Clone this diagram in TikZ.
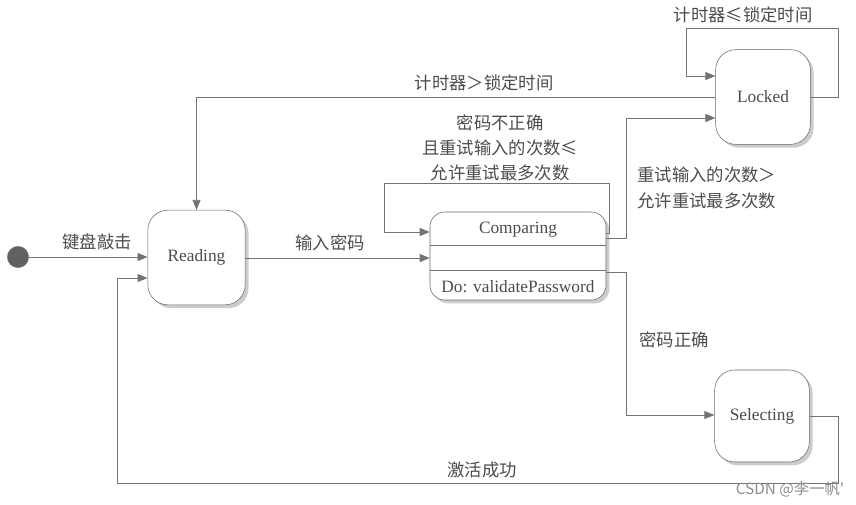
\documentclass[tikz,border=0pt]{standalone}
\usepackage{fontspec}
\setmainfont{Liberation Serif}
\newfontfamily\cjk{Noto Sans CJK SC}
\usetikzlibrary{arrows.meta,shadows}

\begin{document}
\begin{tikzpicture}[x=0.75pt,y=-0.75pt,font=\fontsize{13pt}{16pt}\selectfont,
  st/.style={draw=black!60,fill=white,rounded corners=15pt,minimum width=71pt,minimum height=71pt,
    drop shadow={shadow xshift=2.5pt,shadow yshift=-2.5pt,fill=black!40},text=black!70},
  arr/.style={-{Triangle[length=7.5pt,width=6pt]},draw=black!55,semithick},
  ln/.style={draw=black!55,semithick},
  lb/.style={text=black!70,font=\fontsize{13pt}{19pt}\selectfont\cjk,inner sep=1pt}]
  \useasboundingbox (0,0) rectangle (856,504);
  % states
  \node[circle,fill=black!62,draw=black!50,minimum size=16pt,inner sep=0pt](init) at (18,257){};
  \node[st,minimum width=73pt](rd) at (196.5,257.5){Reading};
  \node[st,minimum width=132pt,minimum height=66pt,rounded corners=11pt](cmp) at (518,256){};
  \node[text=black!70](cmpname) at (518,230){Comparing};
  \node[text=black!70](cmpdo) at (518,287){Do: validatePassword};
  \draw[ln](cmp.west |- 0,245)--(cmp.east |- 0,245);
  \draw[ln](cmp.west |- 0,270)--(cmp.east |- 0,270);
  \node[st](lk) at (763,97){Locked};
  \node[st,minimum height=69pt](sel) at (762,416){Selecting};
  % helper points
  \coordinate(c1) at (606,233); \coordinate(c2) at (606,238); \coordinate(c3) at (606,272);
  % transitions
  \draw[arr](init)--(init -| rd.west);
  \node[lb](l1) at (97,242){键盘敲击};
  \draw[arr](rd.east |- 0,258)--(cmp.west |- 0,258);
  \node[lb](l2) at (330,243){输入密码};
  \draw[arr](c1)--(609,233)--(609,183)--(384,183)--(384,232)--(cmp.west |- 0,232);
  \node[lb,align=center](l3) at (500,148){密码不正确\\且重试输入的次数≤\\允许重试最多次数};
  \draw[arr](c2)--(626,238)--(626,118)--(lk.west |- 0,118);
  \node[lb,align=left,anchor=west](l4) at (636,188){重试输入的次数＞\\允许重试最多次数};
  \draw[arr](c3)--(626,272)--(626,415)--(sel.west |- 0,415);
  \node[lb](l5) at (674,340){密码正确};
  \draw[arr](lk.west)-|(rd.north);
  \node[lb](l6) at (484,83){计时器＞锁定时间};
  \draw[arr](lk.east)--(838,97)--(838,28)--(686,28)--(686,76)--(lk.west |- 0,76);
  \node[lb](l7) at (743,15){计时器≤锁定时间};
  \draw[arr](sel.east)--(838,416)--(838,483)--(117,483)--(117,278)--(rd.west |- 0,278);
  \node[lb](l8) at (482,470){激活成功};
  \node[text=black!45,font=\fontsize{11.5pt}{13pt}\selectfont\cjk](wm) at (790,489){CSDN @李一帆'};
\end{tikzpicture}
\end{document}
